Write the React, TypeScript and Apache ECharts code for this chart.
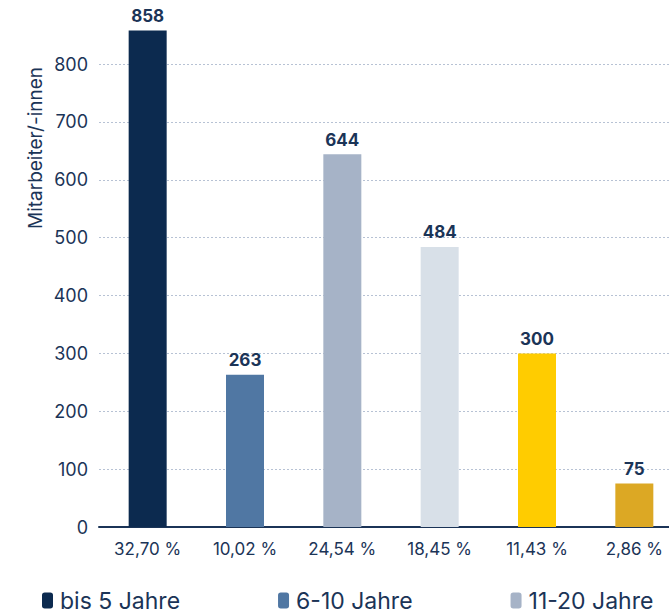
import React, { useEffect, useRef } from "react";
import * as echarts from "echarts";

const categories = ["32,70 %", "10,02 %", "24,54 %", "18,45 %", "11,43 %", "2,86 %"];
const seriesNames = ["bis 5 Jahre", "6-10 Jahre", "11-20 Jahre", "21-30 Jahre", "31-40 Jahre", "über 40 Jahre"];
const values = [858, 263, 644, 484, 300, 75];
const colors = ["#0c2a4f", "#5077a3", "#a6b3c7", "#d8e0e8", "#ffcc00", "#dca824"];
const yTicks = [0, 100, 200, 300, 400, 500, 600, 700, 800];

const NAVY = "#1b3457";
const FONT = "Inter, 'Noto Sans', sans-serif";

export default function App() {
  const ref = useRef<HTMLDivElement>(null);
  useEffect(() => {
    if (!ref.current) return;
    const chart = echarts.init(ref.current, undefined, { renderer: "svg" });
    const series = seriesNames.map((name, i) => ({
      name,
      type: "bar",
      stack: "all",
      barWidth: 38,
      clip: false,
      itemStyle: { color: colors[i] },
      label: {
        show: true,
        position: "top",
        distance: 6,
        color: NAVY,
        fontFamily: FONT,
        fontWeight: "bold",
        fontSize: 17,
      },
      data: categories.map((_, j) => (j === i ? values[i] : "-")),
    }));
    chart.setOption({
      animation: false,
      textStyle: { fontFamily: FONT },
      grid: { left: 99, right: 0, top: 64, bottom: 86 },
      legend: {
        left: 42,
        top: 589,
        padding: 0,
        width: 3000,
        itemWidth: 11,
        itemHeight: 16,
        itemGap: 98,
        icon: "roundRect",
        textStyle: { color: NAVY, fontSize: 23, fontFamily: FONT, padding: [0, 0, 0, 2] },
        data: seriesNames,
      },
      xAxis: {
        type: "category",
        data: categories,
        axisLine: { show: true, lineStyle: { color: NAVY, width: 2 } },
        axisTick: { show: false },
        axisLabel: { color: NAVY, fontSize: 17, fontFamily: FONT, margin: 13 },
      },
      yAxis: {
        type: "value",
        min: yTicks[0],
        max: yTicks[yTicks.length - 1],
        interval: 100,
        axisLine: { show: false },
        axisTick: { show: false },
        axisLabel: { color: NAVY, fontSize: 18, fontFamily: FONT, margin: 11 },
        splitLine: { lineStyle: { color: "#b7c2d4", type: [2, 2], width: 1 } },
      },
      graphic: [
        {
          type: "text",
          x: 35,
          y: 148,
          rotation: Math.PI / 2,
          style: {
            text: "Mitarbeiter/-innen",
            fill: NAVY,
            fontSize: 19,
            fontFamily: FONT,
            textAlign: "center",
            textVerticalAlign: "middle",
          },
        },
      ],
      series,
    });
    return () => chart.dispose();
  }, []);
  return (
    <div style={{ position: "absolute", left: 0, top: 0, width: 669, height: 613, overflow: "hidden" }}>
      <div ref={ref} style={{ width: 683, height: 613 }} />
    </div>
  );
}
